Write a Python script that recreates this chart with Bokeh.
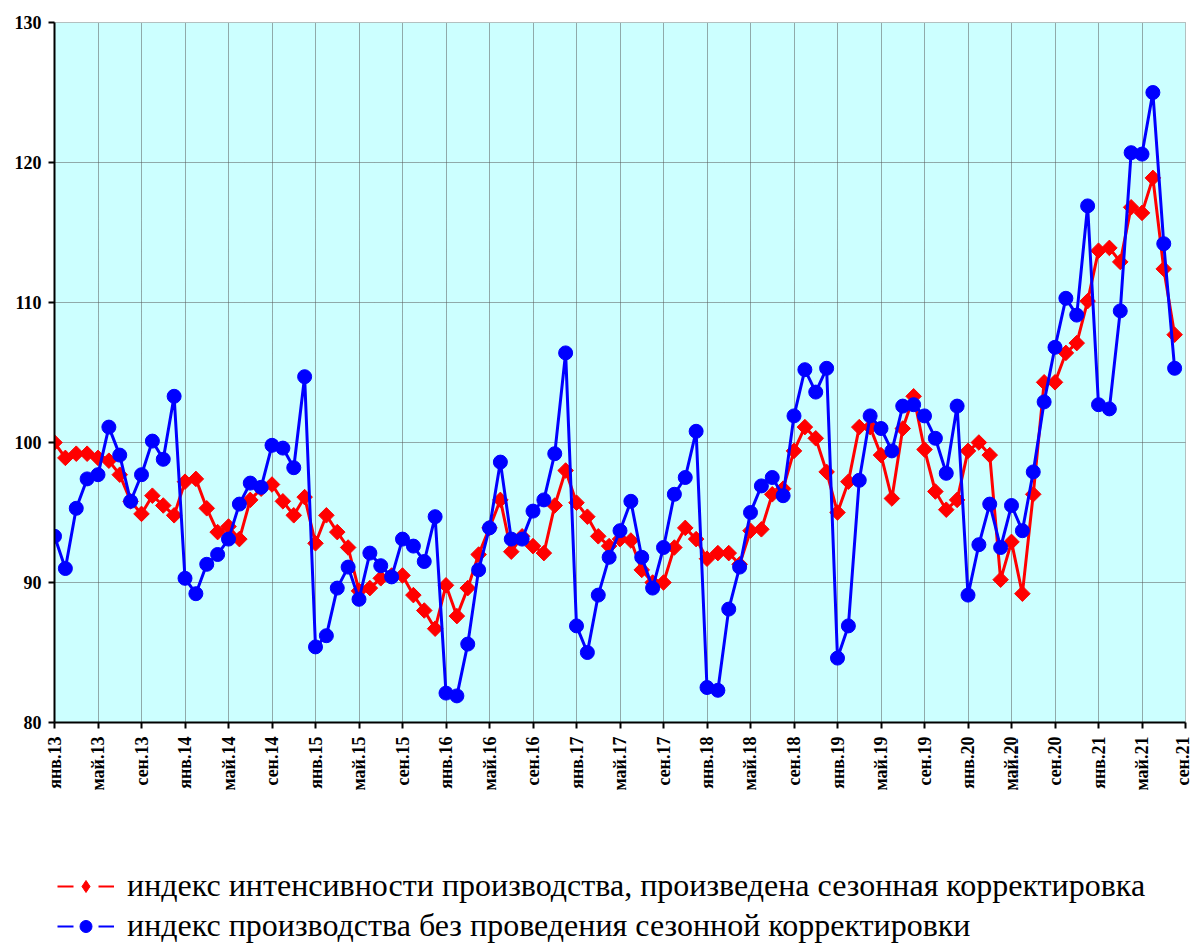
from bokeh.plotting import figure
from bokeh.layouts import column
from bokeh.models import Range1d, FixedTicker, Legend, LegendItem
from bokeh.embed import file_html
from bokeh.resources import INLINE

# Monthly index values, Jan 2013 - Aug 2021
seasonally_adjusted = [
    100.0, 98.9, 99.2, 99.2, 98.9, 98.7, 97.7, 95.8, 94.9, 96.2, 95.5, 94.8,
    97.2, 97.4, 95.3, 93.6, 94.0, 93.1, 95.9, 96.7, 97.0, 95.8, 94.8, 96.1,
    92.8, 94.8, 93.6, 92.5, 89.4, 89.6, 90.3, 90.5, 90.5, 89.1, 88.0, 86.7,
    89.8, 87.6, 89.6, 92.0, 93.9, 95.9, 92.2, 93.3, 92.6, 92.1, 95.5, 98.0,
    95.7, 94.7, 93.3, 92.6, 93.1, 93.0, 90.9, 90.0, 90.0, 92.5, 93.9, 93.1,
    91.7, 92.1, 92.1, 91.3, 93.7, 93.8, 96.3, 96.7, 99.4, 101.1, 100.3, 97.9,
    95.0, 97.2, 101.1, 101.1, 99.1, 96.0, 101.0, 103.3, 99.5, 96.5, 95.2, 95.9,
    99.4, 100.0, 99.1, 90.2, 92.9, 89.2, 96.3, 104.3, 104.3, 106.4, 107.1, 110.1,
    113.7, 113.9, 112.9, 116.8, 116.4, 118.9, 112.4, 107.7,
]
not_adjusted = [
    93.3, 91.0, 95.3, 97.4, 97.7, 101.1, 99.1, 95.8, 97.7, 100.1, 98.8, 103.3,
    90.3, 89.2, 91.3, 92.0, 93.1, 95.6, 97.1, 96.8, 99.8, 99.6, 98.2, 104.7,
    85.4, 86.2, 89.6, 91.1, 88.8, 92.1, 91.2, 90.4, 93.1, 92.6, 91.5, 94.7,
    82.1, 81.9, 85.6, 90.9, 93.9, 98.6, 93.1, 93.1, 95.1, 95.9, 99.2, 106.4,
    86.9, 85.0, 89.1, 91.8, 93.7, 95.8, 91.8, 89.6, 92.5, 96.3, 97.5, 100.8,
    82.5, 82.3, 88.1, 91.1, 95.0, 96.9, 97.5, 96.2, 101.9, 105.2, 103.6, 105.3,
    84.6, 86.9, 97.3, 101.9, 101.0, 99.4, 102.6, 102.7, 101.9, 100.3, 97.8, 102.6,
    89.1, 92.7, 95.6, 92.5, 95.5, 93.7, 97.9, 102.9, 106.8, 110.3, 109.1, 116.9,
    102.7, 102.4, 109.4, 120.7, 120.6, 125.0, 114.2, 105.3,
]
tick_labels = [
    "янв.13", "май.13", "сен.13", "янв.14", "май.14", "сен.14",
    "янв.15", "май.15", "сен.15", "янв.16", "май.16", "сен.16",
    "янв.17", "май.17", "сен.17", "янв.18", "май.18", "сен.18",
    "янв.19", "май.19", "сен.19", "янв.20", "май.20", "сен.20",
    "янв.21", "май.21", "сен.21",
]
label_sa = "индекс интенсивности производства, произведена сезонная корректировка"
label_na = "индекс производства без проведения сезонной корректировки"

months = list(range(len(seasonally_adjusted)))
tick_pos = [i * 4 for i in range(len(tick_labels))]

FONT = "Liberation Serif"
RED = "#FF0000"
BLUE = "#0000FF"

p = figure(width=1192, height=796, output_backend="svg", toolbar_location=None,
           x_range=Range1d(0, 104), y_range=Range1d(80, 130),
           min_border_left=54, min_border_right=7, min_border_top=22,
           min_border_bottom=74)
p.background_fill_color = "#CCFFFF"
p.border_fill_color = "white"
p.outline_line_color = "#808080"
p.outline_line_dash = "1 1"
p.outline_line_width = 1

# axes
p.xaxis.ticker = FixedTicker(ticks=tick_pos)
p.xaxis.major_label_overrides = {t: l for t, l in zip(tick_pos, tick_labels)}
p.xaxis.major_label_orientation = 1.5707963
p.yaxis.ticker = FixedTicker(ticks=[80, 90, 100, 110, 120, 130])
for ax in (p.xaxis, p.yaxis):
    ax.axis_line_color = "black"
    ax.axis_line_width = 2
    ax.major_tick_line_color = "black"
    ax.major_tick_line_width = 2
    ax.major_tick_out = 6
    ax.major_tick_in = 0
    ax.minor_tick_line_color = None
    ax.major_label_text_font = FONT
    ax.major_label_text_font_style = "bold"
    ax.major_label_text_color = "black"
p.yaxis.major_label_text_font_size = "18px"
p.xaxis.major_label_text_font_size = "18px"
p.yaxis.major_label_standoff = 7
p.xaxis.major_label_standoff = 8

for g in (p.xgrid, p.ygrid):
    g.grid_line_color = "#555555"
    g.grid_line_dash = "1 1"
    g.grid_line_width = 1
p.ygrid.ticker = FixedTicker(ticks=[90, 100, 110, 120])
p.xgrid.ticker = FixedTicker(ticks=tick_pos[1:-1])

# series
p.line(months, seasonally_adjusted, line_color=RED, line_width=3)
p.scatter(months, seasonally_adjusted, marker="square", angle=0.785398,
          size=11, fill_color=RED, line_color=RED)
p.line(months, not_adjusted, line_color=BLUE, line_width=3)
p.scatter(months, not_adjusted, marker="circle", size=14,
          fill_color=BLUE, line_color=BLUE)

# legend strip below the chart (series drawn out of its visible range,
# only their legend glyphs show). Its frame is aligned with the chart frame.
lf = figure(width=1192, height=149, output_backend="svg", toolbar_location=None,
            x_axis_type=None, y_axis_type=None,
            x_range=Range1d(1000, 1001), y_range=Range1d(1000, 1001),
            min_border_left=54, min_border_right=7, min_border_top=0,
            min_border_bottom=0)
lf.grid.visible = False
lf.outline_line_color = None
lf.background_fill_color = "white"
lr_line = lf.line(months, seasonally_adjusted, line_color=RED, line_width=2,
                  line_dash="16 25")
lr_pts = lf.scatter(months, seasonally_adjusted, marker="diamond",
                    size=15, fill_color=RED, line_color=RED)
lb_line = lf.line(months, not_adjusted, line_color=BLUE, line_width=2,
                  line_dash="16 25")
lb_pts = lf.scatter(months, not_adjusted, marker="circle", size=11,
                    fill_color=BLUE, line_color=BLUE)

legend = Legend(items=[
    LegendItem(label=label_sa, renderers=[lr_line, lr_pts]),
    LegendItem(label=label_na, renderers=[lb_line, lb_pts]),
], location=(3, 1), orientation="vertical")
legend.label_text_font = FONT
legend.label_text_font_style = "normal"
legend.label_text_font_size = "32px"
legend.label_text_color = "black"
legend.glyph_width = 57
legend.glyph_height = 30
legend.label_height = 30
legend.spacing = 3
legend.padding = 0
legend.margin = 0
legend.label_standoff = 13
legend.background_fill_alpha = 0
legend.border_line_color = None
lf.add_layout(legend)

open("out.html", "w").write(file_html(column(p, lf), INLINE))
